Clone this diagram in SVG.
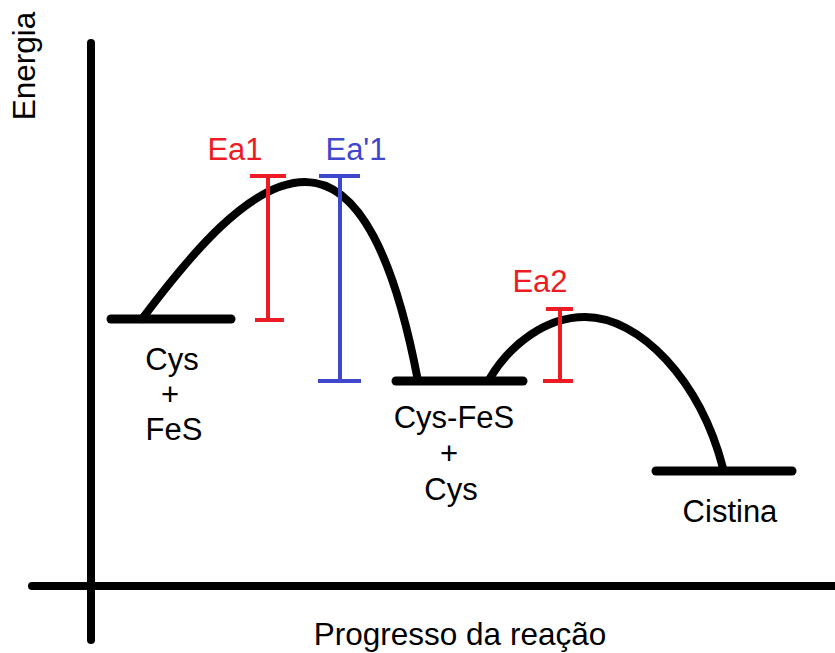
<svg xmlns="http://www.w3.org/2000/svg" width="835" height="653" viewBox="0 0 835 653">
<style>
.ax{stroke:#000;stroke-width:8;stroke-linecap:round;fill:none}
.cv{stroke:#000;stroke-width:8;stroke-linecap:round;fill:none}
.lv{stroke:#000;stroke-width:9;stroke-linecap:round;fill:none}
.red{stroke:#ED1C24;stroke-width:4;fill:none}
.blue{stroke:#3F48CC;stroke-width:4;fill:none}
text{font-family:"Liberation Sans",Arial,sans-serif;font-size:31px;text-anchor:middle}
.big{font-size:31.5px}
.tk{fill:#000}
.tr{fill:#ED1C24}
.tb{fill:#3F48CC}
</style>
<rect width="835" height="653" fill="#fff"/>
<g id="axes">
<line class="ax" x1="91" y1="43" x2="91" y2="640"/>
<line class="ax" x1="32" y1="586" x2="840" y2="586"/>
<text class="tk big" transform="translate(35,66) rotate(-90)">Energia</text>
<text class="tk big" x="460" y="645">Progresso da reação</text>
</g>
<g id="connectors">
<path class="cv" d="M142,319 C190,255 250,182 305,182 C360,182 395,260 418,381"/>
<path class="cv" d="M490,378 C510,345 545,317 585,317 C640,317 700,380 723,468"/>
</g>
<g id="reactants">
<line class="lv" x1="111" y1="319" x2="231" y2="319"/>
<text class="tk" x="172" y="370">Cys</text>
<text class="tk" x="170" y="405">+</text>
<text class="tk" x="174" y="440">FeS</text>
</g>
<g id="intermediate">
<line class="lv" x1="396" y1="381" x2="523" y2="381"/>
<text class="tk" x="454" y="428">Cys-FeS</text>
<text class="tk" x="449" y="464">+</text>
<text class="tk" x="451" y="500">Cys</text>
</g>
<g id="product">
<line class="lv" x1="656" y1="471" x2="792" y2="471"/>
<text class="tk" x="730" y="522">Cistina</text>
</g>
<g id="ea1">
<path class="red" d="M250,176 H286 M268,176 V320 M255,320 H284"/>
<text class="tr" x="235" y="160">Ea1</text>
</g>
<g id="ea1p">
<path class="blue" d="M319,176 H360 M340,176 V381 M318,381 H361"/>
<text class="tb" x="356" y="160">Ea'1</text>
</g>
<g id="ea2">
<path class="red" d="M546,309 H573 M560,309 V381 M543,381 H573"/>
<text class="tr" x="540" y="292">Ea2</text>
</g>
</svg>
